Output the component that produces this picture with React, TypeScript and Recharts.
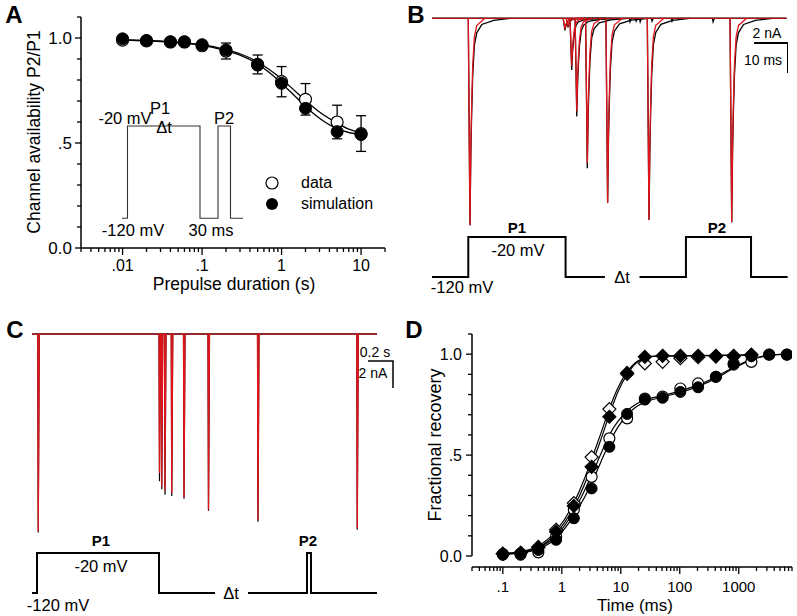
import React from "react";
import {
  ComposedChart, LineChart, Line, Scatter, XAxis, YAxis, ErrorBar, ReferenceLine,
} from "recharts";

const FONT = '"Liberation Sans", Arial, Helvetica, sans-serif';
const RED = "#e0141b";

// ---------- panel A: channel availability vs prepulse duration
const aDur = [0.01, 0.02, 0.04, 0.06, 0.1, 0.2, 0.5, 1, 2, 5, 10];
const aData = [0.99, 0.986, 0.981, 0.981, 0.963, 0.938, 0.874, 0.792, 0.708, 0.6, 0.545];
const aDataErr = [0.006, 0.006, 0.006, 0.008, 0.01, 0.038, 0.045, 0.072, 0.075, 0.08, 0.085];
const aSim = [0.996, 0.988, 0.982, 0.982, 0.968, 0.943, 0.871, 0.784, 0.665, 0.554, 0.54];
const aFitX = [0.01, 0.02, 0.05, 0.1, 0.2, 0.3, 0.5, 0.7, 1, 1.5, 2, 3, 5, 7, 10];
const aFitData = [0.992, 0.988, 0.98, 0.968, 0.945, 0.925, 0.886, 0.85, 0.805, 0.745, 0.703, 0.648, 0.595, 0.566, 0.55];
const aFitSim = [0.99, 0.986, 0.977, 0.965, 0.94, 0.918, 0.876, 0.836, 0.785, 0.72, 0.674, 0.618, 0.568, 0.55, 0.54];
const aXTicks = [
  0.003, 0.004, 0.005, 0.006, 0.007, 0.008, 0.009,
  0.01, 0.02, 0.03, 0.04, 0.05, 0.06, 0.07, 0.08, 0.09,
  0.1, 0.2, 0.3, 0.4, 0.5, 0.6, 0.7, 0.8, 0.9,
  1, 2, 3, 4, 5, 6, 7, 8, 9, 10, 20,
];
const aXMajor = [0.01, 0.1, 1, 10];
const aXLabels = [".01", ".1", "1", "10"];
const yTicks = [0, 0.1, 0.2, 0.3, 0.4, 0.5, 0.6, 0.7, 0.8, 0.9, 1, 1.1];
const yMajor = [0, 0.5, 1];
const yLabels = ["0.0", ".5", "1.0"];
// inset protocol (schematic time units, mV)
const aInsetT = [0, 5.5, 5.5, 78, 78, 96, 96, 108.5, 108.5, 121];
const aInsetV = [-120, -120, -20, -20, -120, -120, -20, -20, -120, -120];

// ---------- panel B: current traces, ms / nA
const bTimes = [11.2, 39.2, 40.1, 41.2, 42.7, 45.8, 51.8, 64.0, 88.4];
const bAmpData = [13.8, 0.8, 0.6, 3.45, 6.55, 10.0, 12.3, 13.45, 13.6];
const bAmpSim = [13.8, 0.7, 0.5, 3.15, 6.2, 9.65, 12.3, 13.45, 13.6];
const bShapeData = [[-0.5, 0], [0, -1], [0.25, -0.66], [0.5, -0.46], [0.8, -0.28], [1.3, -0.13], [2, -0.07], [3.5, -0.03], [7, -0.01], [12, 0]];
const bShapeSim = [[-0.5, 0], [0, -1], [0.25, -0.62], [0.5, -0.42], [0.8, -0.23], [1.3, -0.09], [2, -0.035], [4.4, 0]];
const bBlipT = [58.4, 60.2, 61.4, 64.9, 70.8, 82.9];
const bBlipAmp = [0.25, 0.2, 0.25, 0.2, 0.2, 0.25];
const blipShape = [[-0.2, 0], [0, -1], [0.4, 0]];
const bBaseT = [0, 104.6];
const bProtoT = [0, 10.7, 10.7, 39.4, 39.4, 51.0, 56, 61.2, 74.9, 74.9, 94.1, 94.1, 104.9];
const bProtoV = [-120, -120, -20, -20, -120, -120, null, -120, -120, -20, -20, -120, -120];
const bBarT = [95, 105, 105];
const bBarI = [-1.65, -1.65, -3.65];

// ---------- panel C: current traces, s / nA
const cTimes = [0.05, 1.02, 1.038, 1.064, 1.118, 1.216, 1.412, 1.808, 2.602];
const cAmpSim = [14.6, 10.3, 11.3, 11.6, 11.8, 12.1, 13.0, 13.8, 14.4];
const cAmpData = [14.7, 10.9, 11.5, 11.9, 12.0, 12.2, 13.1, 13.9, 14.5];
const cShape = [[-0.004, 0], [0, -1], [0.008, 0]];
const cBaseT = [0, 2.76];
const cProtoT = [0, 0.04, 0.04, 1.016, 1.016, 1.464, 1.6, 1.728, 2.2, 2.2, 2.232, 2.232, 2.76];
const cProtoV = [-120, -120, -20, -20, -120, -120, null, -120, -120, -20, -20, -120, -120];
const cBarT = [2.688, 2.888, 2.888];
const cBarI = [-2, -2, -4];

// ---------- panel D: fractional recovery vs time
const dTime = [0.1, 0.2, 0.4, 0.8, 1.6, 3.2, 6.4, 12.8, 25.6, 51.2, 102.4, 204.8, 409.6, 819.2, 1638.4, 3276.8, 6553.6];
const dFastData = [0.012, 0.016, 0.045, 0.13, 0.262, 0.49, 0.728, 0.902, 0.954, 0.962, 0.98, 0.985, 0.988, 0.988, 0.995];
const dFastSim = [0.01, 0.015, 0.043, 0.12, 0.248, 0.442, 0.69, 0.907, 0.987, 0.992, 0.992, 0.992, 0.992, 0.992, 0.998];
const dSlowData = [0.01, 0.012, 0.018, 0.096, 0.23, 0.392, 0.583, 0.682, 0.78, 0.79, 0.83, 0.855, 0.888, 0.954, 0.962, 0.998, 0.998];
const dSlowSim = [0.006, 0.006, 0.03, 0.08, 0.187, 0.335, 0.541, 0.704, 0.775, 0.784, 0.813, 0.836, 0.888, 0.948, 0.99, 0.998, 0.998];
const dFastFitX = [0.1, 0.2, 0.4, 0.8, 1.6, 2.4, 3.2, 4.5, 6.4, 9, 12.8, 18, 25.6, 40, 100, 1638.4];
const dFastFitA = [0.012, 0.022, 0.05, 0.125, 0.262, 0.38, 0.48, 0.6, 0.73, 0.835, 0.912, 0.96, 0.982, 0.99, 0.992, 0.995];
const dFastFitB = [0.01, 0.016, 0.042, 0.112, 0.242, 0.352, 0.45, 0.57, 0.7, 0.815, 0.9, 0.955, 0.98, 0.99, 0.992, 0.997];
const dSlowFitX = [0.1, 0.2, 0.4, 0.8, 1.6, 3.2, 4.5, 6.4, 9, 12.8, 18, 25.6, 51.2, 102.4, 204.8, 409.6, 819.2, 1638.4, 3276.8, 6553.6];
const dSlowFitA = [0.01, 0.02, 0.042, 0.1, 0.222, 0.4, 0.5, 0.6, 0.668, 0.718, 0.752, 0.772, 0.795, 0.818, 0.848, 0.887, 0.935, 0.975, 0.995, 1.0];
const dSlowFitB = [0.008, 0.015, 0.035, 0.088, 0.2, 0.36, 0.46, 0.56, 0.64, 0.698, 0.738, 0.762, 0.788, 0.81, 0.84, 0.88, 0.93, 0.972, 0.993, 1.0];
const dXTicks = [
  0.03, 0.04, 0.05, 0.06, 0.07, 0.08, 0.09,
  0.1, 0.2, 0.3, 0.4, 0.5, 0.6, 0.7, 0.8, 0.9,
  1, 2, 3, 4, 5, 6, 7, 8, 9,
  10, 20, 30, 40, 50, 60, 70, 80, 90,
  100, 200, 300, 400, 500, 600, 700, 800, 900,
  1000, 2000, 3000, 4000, 5000, 6000, 7000, 8000,
];
const dXMajor = [0.1, 1, 10, 100, 1000];
const dXLabels = [".1", "1", "10", "100", "1000"];

// ---------- helpers
const pts = (xs: number[], ys: (number | null)[], extra?: number[]) =>
  xs.slice(0, ys.length).map((x, k) => ({ x, y: ys[k], err: extra ? extra[k] : 0 }));
const tv = (ts: number[], vs: (number | null)[]) => ts.map((t, k) => ({ t, v: vs[k] }));
const ti = (ts: number[], is: number[]) => ts.map((t, k) => ({ t, i: is[k] }));
const spike = (t0: number, amp: number, shape: number[][]) =>
  shape.map(([dt, f]) => ({ t: t0 + dt, i: f * amp }));

const openCircle = (r: number) => (p: any) =>
  <circle cx={p.cx} cy={p.cy} r={r} fill="#fff" stroke="#000" strokeWidth={1.2} />;
const fullCircle = (r: number) => (p: any) =>
  <circle cx={p.cx} cy={p.cy} r={r} fill="#000" stroke="#000" strokeWidth={1} />;
const diamond = (r: number, filled: boolean) => (p: any) =>
  <polygon
    points={`${p.cx},${p.cy - r} ${p.cx + r},${p.cy} ${p.cx},${p.cy + r} ${p.cx - r},${p.cy}`}
    fill={filled ? "#000" : "#fff"} stroke="#000" strokeWidth={1.2}
  />;

function makeXTick(majors: number[], labels: string[], fs: number, off: number) {
  return (p: any) => {
    const k = majors.indexOf(p.payload.value);
    return (
      <g>
        <line x1={p.x} x2={p.x} y1={p.y} y2={p.y + (k >= 0 ? 7 : 4)} stroke="#000" strokeWidth={1.3} />
        {k >= 0 && (
          <text x={p.x} y={p.y + off} textAnchor="middle" dominantBaseline="central"
            fontSize={fs} fontFamily={FONT} fill="#000">{labels[k]}</text>
        )}
      </g>
    );
  };
}

function makeYTick(majors: number[], labels: string[], fs: number, gap: number) {
  return (p: any) => {
    const k = majors.indexOf(p.payload.value);
    return (
      <g>
        <line x1={p.x} x2={p.x - (k >= 0 ? 6 : 4)} y1={p.y} y2={p.y} stroke="#000" strokeWidth={1.3} />
        {k >= 0 && (
          <text x={p.x - gap} y={p.y} textAnchor="end" dominantBaseline="central"
            fontSize={fs} fontFamily={FONT} fill="#000">{labels[k]}</text>
        )}
      </g>
    );
  };
}

type TP = { x: number; y: number; s?: number; b?: boolean; a?: "start" | "middle" | "end"; r?: number; children: React.ReactNode };
function T({ x, y, s = 16, b = false, a = "middle", r = 0, children }: TP) {
  const tx = a === "middle" ? "-50%" : a === "end" ? "-100%" : "0";
  return (
    <div style={{
      position: "absolute", left: x, top: y,
      transform: `translate(${tx}, -50%)` + (r ? ` rotate(${r}deg)` : ""),
      fontFamily: FONT, fontSize: s, fontWeight: b ? 700 : 400, lineHeight: 1,
      whiteSpace: "nowrap", color: "#000",
    }}>{children}</div>
  );
}

const NOM = { top: 0, right: 0, bottom: 0, left: 0 };
const AX = { stroke: "#000", strokeWidth: 1.5 };

export default function App() {
  const bBlack = bTimes.map((t, k) => spike(t, bAmpData[k], bShapeData));
  const bRed = bTimes.map((t, k) => spike(t, bAmpSim[k], bShapeSim));
  const bBlips = bBlipT.map((t, k) => spike(t, bBlipAmp[k], blipShape));
  const cBlack = cTimes.map((t, k) => spike(t, cAmpData[k], cShape));
  const cRed = cTimes.map((t, k) => spike(t, cAmpSim[k], cShape));

  return (
    <div style={{ position: "absolute", left: 0, top: 0, width: 797, height: 616, background: "#fff", overflow: "hidden" }}>
      {/* ---------------- A ---------------- */}
      <div style={{ position: "absolute", left: 0, top: 0 }}>
        <ComposedChart width={400} height={300} margin={{ top: 17, right: 15, bottom: 12, left: 21 }}>
          <XAxis type="number" dataKey="x" scale="log" domain={[0.003, 20]} ticks={aXTicks} interval={0}
            tickSize={0} tickMargin={0} height={40} allowDataOverflow axisLine={AX} tickLine={false}
            tick={makeXTick(aXMajor, aXLabels, 16, 17)} />
          <YAxis type="number" dataKey="y" domain={[0, 1.1]} ticks={yTicks} interval={0}
            tickSize={0} tickMargin={0} width={60} allowDataOverflow axisLine={AX} tickLine={false}
            tick={makeYTick(yMajor, yLabels, 17, 9)} />
          <Line data={pts(aFitX, aFitData)} dataKey="y" type="monotone" stroke="#000" strokeWidth={1.3}
            dot={false} isAnimationActive={false} />
          <Line data={pts(aFitX, aFitSim)} dataKey="y" type="monotone" stroke="#000" strokeWidth={1.3}
            dot={false} isAnimationActive={false} />
          <Scatter data={pts(aDur, aData, aDataErr)} shape={openCircle(6)} isAnimationActive={false}>
            <ErrorBar dataKey="err" direction="y" width={5} stroke="#000" strokeWidth={1.3} />
          </Scatter>
          <Scatter data={pts(aDur, aSim)} shape={fullCircle(6)} isAnimationActive={false} />
        </ComposedChart>
      </div>
      <div style={{ position: "absolute", left: 122, top: 120 }}>
        <LineChart width={122} height={104} margin={NOM}>
          <XAxis type="number" dataKey="t" domain={[0, 122]} hide allowDataOverflow />
          <YAxis type="number" domain={[-126.2, -13.5]} hide allowDataOverflow />
          <Line data={tv(aInsetT, aInsetV)} dataKey="v" type="linear" stroke="#333" strokeWidth={1.1}
            dot={false} isAnimationActive={false} />
        </LineChart>
      </div>
      <T x={14} y={15} s={24} b>A</T>
      <T x={35} y={132} s={17.5} r={-90}>Channel availability P2/P1</T>
      <T x={234} y={285} s={17.5}>Prepulse duration (s)</T>
      <T x={125} y={118} s={16.5}>-20 mV</T>
      <T x={160} y={108} s={16.5}>P1</T>
      <T x={164} y={127} s={16.5}>Δt</T>
      <T x={224} y={118} s={16.5}>P2</T>
      <T x={133} y={230} s={16.5}>-120 mV</T>
      <T x={211} y={230} s={16.5}>30 ms</T>
      <svg style={{ position: "absolute", left: 264, top: 175 }} width={16} height={38}>
        <circle cx={8} cy={8} r={6} fill="#fff" stroke="#000" strokeWidth={1.2} />
        <circle cx={8} cy={29} r={6} fill="#000" />
      </svg>
      <T x={301} y={183} s={16} a="start">data</T>
      <T x={301} y={204} s={16} a="start">simulation</T>

      {/* ---------------- B ---------------- */}
      <div style={{ position: "absolute", left: 432, top: 10 }}>
        <LineChart width={356} height={280} margin={NOM}>
          <XAxis type="number" dataKey="t" domain={[0, 105]} hide allowDataOverflow />
          <YAxis yAxisId="i" type="number" domain={[-18.113, 0.553]} hide allowDataOverflow />
          <YAxis yAxisId="v" type="number" domain={[-152.5, 547.5]} hide allowDataOverflow />
          <Line yAxisId="i" data={ti(bBaseT, [0, 0])} dataKey="i" stroke="#000" strokeWidth={1.4}
            dot={false} isAnimationActive={false} />
          {bBlips.map((d, k) => (
            <Line key={"bl" + k} yAxisId="i" data={d} dataKey="i" stroke="#000" strokeWidth={1.2}
              dot={false} isAnimationActive={false} />
          ))}
          {bBlack.map((d, k) => (
            <Line key={"bk" + k} yAxisId="i" data={d} dataKey="i" stroke="#000" strokeWidth={1.3}
              dot={false} isAnimationActive={false} />
          ))}
          <Line yAxisId="i" data={ti(bBaseT, [0, 0])} dataKey="i" stroke={RED} strokeWidth={1}
            dot={false} isAnimationActive={false} />
          {bRed.map((d, k) => (
            <Line key={"br" + k} yAxisId="i" data={d} dataKey="i" stroke={RED} strokeWidth={1.3}
              dot={false} isAnimationActive={false} />
          ))}
          <Line yAxisId="i" data={ti(bBarT, bBarI)} dataKey="i" stroke="#000" strokeWidth={2}
            dot={false} isAnimationActive={false} />
          <Line yAxisId="v" data={tv(bProtoT, bProtoV)} dataKey="v" stroke="#000" strokeWidth={2}
            dot={false} isAnimationActive={false} />
        </LineChart>
      </div>
      <T x={416} y={15} s={24} b>B</T>
      <T x={767} y={33} s={14}>2 nA</T>
      <T x={763} y={60} s={14}>10 ms</T>
      <T x={517} y={227} s={15} b>P1</T>
      <T x={518} y={250} s={16.5}>-20 mV</T>
      <T x={462} y={287} s={16.5}>-120 mV</T>
      <T x={622} y={277} s={16.5}>Δt</T>
      <T x={717} y={227} s={15} b>P2</T>

      {/* ---------------- C ---------------- */}
      <div style={{ position: "absolute", left: 32, top: 320 }}>
        <LineChart width={363} height={290} margin={NOM}>
          <XAxis type="number" dataKey="t" domain={[0, 2.904]} hide allowDataOverflow />
          <YAxis yAxisId="i" type="number" domain={[-20.444, 1.037]} hide allowDataOverflow />
          <YAxis yAxisId="v" type="number" domain={[-162.5, 562.5]} hide allowDataOverflow />
          <Line yAxisId="i" data={ti(cBaseT, [0, 0])} dataKey="i" stroke="#000" strokeWidth={1.4}
            dot={false} isAnimationActive={false} />
          {cBlack.map((d, k) => (
            <Line key={"ck" + k} yAxisId="i" data={d} dataKey="i" stroke="#000" strokeWidth={1.2}
              dot={false} isAnimationActive={false} />
          ))}
          <Line yAxisId="i" data={ti(cBaseT, [0, 0])} dataKey="i" stroke={RED} strokeWidth={1}
            dot={false} isAnimationActive={false} />
          {cRed.map((d, k) => (
            <Line key={"cr" + k} yAxisId="i" data={d} dataKey="i" stroke={RED} strokeWidth={1.3}
              dot={false} isAnimationActive={false} />
          ))}
          <Line yAxisId="i" data={ti(cBarT, cBarI)} dataKey="i" stroke="#000" strokeWidth={1.5}
            dot={false} isAnimationActive={false} />
          <Line yAxisId="v" data={tv(cProtoT, cProtoV)} dataKey="v" stroke="#000" strokeWidth={2}
            dot={false} isAnimationActive={false} />
        </LineChart>
      </div>
      <T x={15} y={330} s={24} b>C</T>
      <T x={375} y={352} s={14}>0.2 s</T>
      <T x={373} y={373} s={14}>2 nA</T>
      <T x={101} y={540} s={15} b>P1</T>
      <T x={101} y={566} s={16.5}>-20 mV</T>
      <T x={58} y={605} s={16.5}>-120 mV</T>
      <T x={231} y={593} s={16.5}>Δt</T>
      <T x={308} y={540} s={15} b>P2</T>

      {/* ---------------- D ---------------- */}
      <div style={{ position: "absolute", left: 400, top: 310 }}>
        <ComposedChart width={397} height={306} margin={{ top: 24, right: 5, bottom: 9, left: 12 }}>
          <XAxis type="number" dataKey="x" scale="log" domain={[0.03, 8000]} ticks={dXTicks} interval={0}
            tickSize={0} tickMargin={0} height={40} allowDataOverflow axisLine={AX} tickLine={false}
            tick={makeXTick(dXMajor, dXLabels, 15, 19)} />
          <YAxis type="number" dataKey="y" domain={[-0.0545, 1.1]} ticks={yTicks} interval={0}
            tickSize={0} tickMargin={0} width={60} allowDataOverflow axisLine={false} tickLine={false}
            tick={makeYTick(yMajor, yLabels, 16, 10)} />
          <ReferenceLine segment={[{ x: 0.03, y: 0 }, { x: 0.03, y: 1.1 }]} stroke="#000" strokeWidth={1.5}
            ifOverflow="visible" />
          <Line data={pts(dSlowFitX, dSlowFitA)} dataKey="y" type="monotone" stroke="#000" strokeWidth={1.2}
            dot={false} isAnimationActive={false} />
          <Line data={pts(dSlowFitX, dSlowFitB)} dataKey="y" type="monotone" stroke="#000" strokeWidth={1.2}
            dot={false} isAnimationActive={false} />
          <Line data={pts(dFastFitX, dFastFitA)} dataKey="y" type="monotone" stroke="#000" strokeWidth={1.2}
            dot={false} isAnimationActive={false} />
          <Line data={pts(dFastFitX, dFastFitB)} dataKey="y" type="monotone" stroke="#000" strokeWidth={1.2}
            dot={false} isAnimationActive={false} />
          <Scatter data={pts(dTime, dSlowData)} shape={openCircle(5.5)} isAnimationActive={false} />
          <Scatter data={pts(dTime, dSlowSim)} shape={fullCircle(5.5)} isAnimationActive={false} />
          <Scatter data={pts(dTime, dFastData)} shape={diamond(6.5, false)} isAnimationActive={false} />
          <Scatter data={pts(dTime, dFastSim)} shape={diamond(6.5, true)} isAnimationActive={false} />
        </ComposedChart>
      </div>
      <T x={414} y={330} s={24} b>D</T>
      <T x={435} y={445} s={18} r={-90}>Fractional recovery</T>
      <T x={635} y={605} s={17}>Time (ms)</T>
    </div>
  );
}
